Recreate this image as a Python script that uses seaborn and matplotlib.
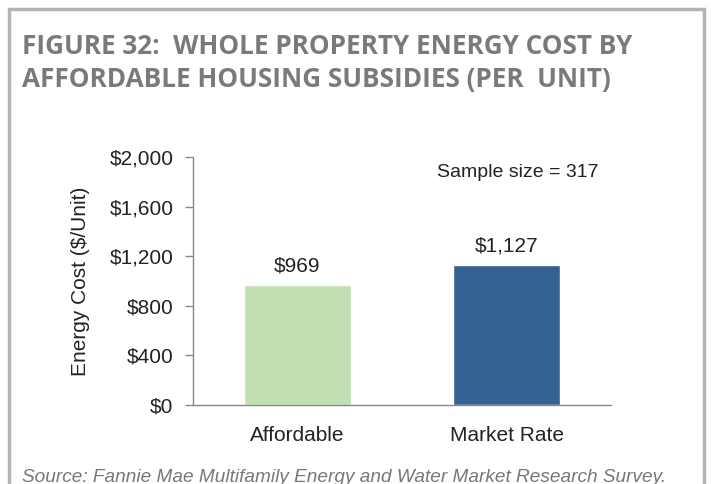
import matplotlib
matplotlib.use("Agg")
import matplotlib.pyplot as plt
import matplotlib.patches as patches
import seaborn as sns
import pandas as pd

# data
categories = ["Affordable", "Market Rate"]
energy_cost = [969, 1127]
bar_colors = ["#c2dfb4", "#356092"]
y_ticks = [0, 400, 800, 1200, 1600, 2000]
sample_size = 317

df = pd.DataFrame({"category": categories, "cost": energy_cost})

sns.set_style("white")
plt.rcParams["font.family"] = ["Liberation Sans", "DejaVu Sans"]

fig = plt.figure(figsize=(7.11, 4.84), dpi=100)
ax = fig.add_axes([0.2714, 0.1632, 0.588, 0.5124])

sns.barplot(data=df, x="category", y="cost", hue="category",
            palette=bar_colors, width=0.51, legend=False, ax=ax,
            saturation=1)

ax.set_xlim(-0.5, 1.5)
ax.set_ylim(0, 2000)
ax.set_yticks(y_ticks)
ax.set_yticklabels([f"${v:,}" for v in y_ticks], fontsize=15, color="#222222")
ax.set_xticks([0, 1])
ax.set_xticklabels(categories, fontsize=15, color="#222222")
ax.set_xticks([-0.5, 0.5, 1.5], minor=True)
ax.tick_params(axis="x", which="major", length=0, pad=15)
ax.tick_params(axis="x", which="minor", length=6, width=1, color="#888888", direction="out")
ax.tick_params(axis="y", length=6, width=1, color="#888888", direction="out", left=True, pad=8)
ax.set_xlabel("")
ax.set_ylabel("Energy Cost ($/Unit)", fontsize=15, color="#222222", labelpad=14)

for side in ["top", "right"]:
    ax.spines[side].set_visible(False)
for side in ["left", "bottom"]:
    ax.spines[side].set_color("#888888")
    ax.spines[side].set_linewidth(1)

for cont in ax.containers:
    ax.bar_label(cont, labels=[f"${v:,.0f}" for v in cont.datavalues],
                 padding=7, fontsize=15, color="#222222")

ax.text(1.055, 1879, f"Sample size = {sample_size}", ha="center", va="center",
        fontsize=14, color="#222222")

# outer frame
frame = patches.Rectangle((9 / 711, -0.05), 695 / 711, 1.05 - 9 / 484,
                          transform=fig.transFigure, fill=False,
                          edgecolor="#b4b4b4", linewidth=2.5, clip_on=False)
fig.add_artist(frame)

fig.text(22 / 711, 1 - 46 / 484, "FIGURE 32:  WHOLE PROPERTY ENERGY COST BY",
         fontsize=18.8, fontweight="bold", color="#7a7a7a", va="center",
         family=["Open Sans", "DejaVu Sans"])
fig.text(22 / 711, 1 - 80 / 484, "AFFORDABLE HOUSING SUBSIDIES (PER  UNIT)",
         fontsize=18.8, fontweight="bold", color="#7a7a7a", va="center",
         family=["Open Sans", "DejaVu Sans"])

fig.text(22 / 711, 1 - 477 / 484,
         "Source: Fannie Mae Multifamily Energy and Water Market Research Survey.",
         fontsize=13.7, style="italic", color="#777777", va="center")

fig.savefig("out.png", dpi=100)
